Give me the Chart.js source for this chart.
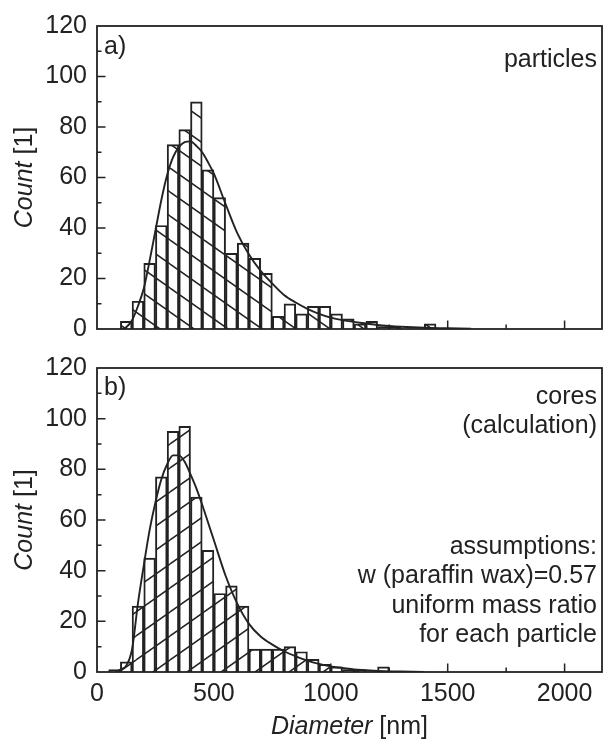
<!DOCTYPE html>
<html>
<head>
<meta charset="utf-8">
<script src="https://cdn.jsdelivr.net/npm/chart.js@4.4.1/dist/chart.umd.min.js"></script>
<style>
  html, body { margin: 0; padding: 0; background: #fff; }
  #wrap { position: relative; width: 605px; height: 741px; }
  canvas { position: absolute; left: 0; }
  #topChart { top: 0; }
  #bottomChart { top: 348px; }
</style>
</head>
<body>
<div id="wrap">
  <canvas id="topChart" width="605" height="348"></canvas>
  <canvas id="bottomChart" width="605" height="393"></canvas>
</div>
<script>
// histogram classes (50 nm wide), centres in nm
const binCenters = [75, 125, 175, 225, 275, 325, 375, 425, 475, 525, 575, 625, 675, 725,
    775, 825, 875, 925, 975, 1025, 1075, 1125, 1175, 1225, 1275, 1325, 1375, 1425];
const particleCounts = [0, 3, 11, 26, 41, 73, 79, 90, 63, 52, 30, 34, 28, 22,
    5, 10, 6, 9, 9, 6, 4, 2, 3, 1, 1, 0, 0, 2];
const coreCounts = [1, 4, 26, 45, 77, 95, 97, 69, 48, 31, 34, 26, 9, 9,
    9, 10, 8, 5, 3, 2, 1, 1, 0, 2, 0, 0, 0, 0];

// fitted distributions
const particleFitX = [110, 125, 150, 175, 200, 225, 250, 275, 300, 325, 350, 375, 400, 425, 450, 475, 500,
    550, 600, 650, 700, 750, 800, 850, 900, 950, 1000, 1050, 1100, 1150, 1200, 1250, 1300, 1400, 1500, 1600];
const particleFitY = [0, 0.7, 3.5, 9, 16, 27, 39, 51, 61, 68, 72, 74, 74.3, 72.5, 70, 66, 61.5,
    49.5, 38, 29.5, 23, 18, 13.5, 10.5, 8, 6, 4.5, 3.5, 2.8, 2.2, 1.6, 1.2, 0.9, 0.5, 0.3, 0.1];
const coreFitX = [80, 100, 125, 150, 175, 200, 225, 250, 275, 300, 325, 350, 375, 400, 425, 450, 475, 500,
    550, 600, 650, 700, 750, 800, 850, 900, 950, 1000, 1050, 1100, 1150, 1200, 1300, 1400];
const coreFitY = [0, 1, 2.5, 9, 27, 42, 56, 67, 76, 82, 85.5, 85.5, 83, 78, 72.5, 66, 59, 52,
    38, 27, 19, 14, 10.8, 8.2, 6.2, 4.5, 3.2, 2.2, 1.6, 1, 0.7, 0.4, 0.2, 0];

// axis ticks
const xTickValues = [0, 500, 1000, 1500, 2000];
const xMinorTicks = [250, 500, 750, 1000, 1250, 1500, 1750, 2000];
const yMinorTicks = [10, 20, 30, 40, 50, 60, 70, 80, 90, 100, 110];

const ink = '#222';
const fontFamily = '"Liberation Sans", Arial, sans-serif';

function hatch(rising) {
    const w = 34, h = 24;
    const c = document.createElement('canvas');
    c.width = w; c.height = h;
    const g = c.getContext('2d');
    g.strokeStyle = ink;
    g.lineWidth = 1.5;
    const offs = [[0, 0], [w, 0], [-w, 0], [0, h], [0, -h]];
    offs.forEach(([dx, dy]) => {
        g.beginPath();
        if (rising) { g.moveTo(dx, dy + h); g.lineTo(dx + w, dy); }
        else { g.moveTo(dx, dy); g.lineTo(dx + w, dy + h); }
        g.stroke();
    });
    return g.createPattern(c, 'repeat');
}

function italicThenPlain(ctx, italicPart, plainPart, cx, cy) {
    ctx.font = 'italic 25px ' + fontFamily;
    const w1 = ctx.measureText(italicPart).width;
    ctx.font = '25px ' + fontFamily;
    const w2 = ctx.measureText(plainPart).width;
    let x = cx - (w1 + w2) / 2;
    ctx.textAlign = 'left';
    ctx.font = 'italic 25px ' + fontFamily;
    ctx.fillText(italicPart, x, cy);
    ctx.font = '25px ' + fontFamily;
    ctx.fillText(plainPart, x + w1, cy);
}

function makePanel(id, counts, fitX, fitY, rising, isBottom, notes) {
    const decor = {
        id: 'decor' + id,
        afterDraw(chart) {
            const { ctx, chartArea: a, scales } = chart;
            ctx.save();
            ctx.strokeStyle = ink;
            ctx.fillStyle = ink;
            // inward ticks
            ctx.lineWidth = 1.5;
            ctx.beginPath();
            xMinorTicks.forEach(v => {
                const px = scales.x.getPixelForValue(v);
                const len = v % 500 === 0 ? 8.5 : 4.5;
                ctx.moveTo(px, a.bottom);
                ctx.lineTo(px, a.bottom - len);
            });
            yMinorTicks.forEach(v => {
                const py = scales.y.getPixelForValue(v);
                const len = v % 20 === 0 ? 8.5 : 4.5;
                ctx.moveTo(a.left, py);
                ctx.lineTo(a.left + len, py);
            });
            ctx.stroke();
            // frame
            ctx.lineWidth = 1.8;
            ctx.strokeRect(a.left, a.top, a.right - a.left, a.bottom - a.top);
            // notes
            ctx.textBaseline = 'middle';
            ctx.font = '25px ' + fontFamily;
            notes.forEach(n => {
                ctx.textAlign = n.align;
                const x = n.align === 'left' ? a.left + n.dx : a.right - n.dx;
                ctx.fillText(n.text, x, a.top + n.dy);
            });
            // y title
            ctx.save();
            ctx.translate(25, (a.top + a.bottom) / 2);
            ctx.rotate(-Math.PI / 2);
            italicThenPlain(ctx, 'Count', ' [1]', 0, 0);
            ctx.restore();
            if (isBottom) {
                italicThenPlain(ctx, 'Diameter', ' [nm]', (a.left + a.right) / 2, chart.height - 14);
            }
            ctx.restore();
        }
    };

    return new Chart(document.getElementById(id), {
        data: {
            datasets: [{
                type: 'line',
                data: fitX.map((x, i) => ({ x: x, y: fitY[i] })),
                borderColor: ink,
                borderWidth: 1.9,
                pointRadius: 0,
                fill: false,
                cubicInterpolationMode: 'monotone',
                order: 0
            }, {
                type: 'bar',
                data: binCenters.map((x, i) => ({ x: x, y: counts[i] })),
                backgroundColor: hatch(rising),
                borderColor: ink,
                borderWidth: 1.3,
                barPercentage: 1,
                categoryPercentage: 1,
                order: 1
            }]
        },
        options: {
            responsive: false,
            animation: false,
            devicePixelRatio: 1,
            layout: {
                autoPadding: false,
                padding: { top: isBottom ? 20 : 26, right: 3, left: 0, bottom: 0 }
            },
            plugins: { legend: { display: false }, tooltip: { enabled: false } },
            scales: {
                x: {
                    type: 'linear',
                    offset: false,
                    min: 0,
                    max: 2160,
                    grid: { display: false, drawTicks: false, offset: false },
                    border: { display: false },
                    ticks: {
                        display: isBottom,
                        autoSkip: false,
                        maxRotation: 0,
                        padding: 7,
                        color: ink,
                        font: { family: fontFamily, size: 25 },
                        callback: v => String(v)
                    },
                    afterBuildTicks: s => { s.ticks = xTickValues.map(v => ({ value: v })); },
                    afterFit: s => {
                        s.height = isBottom ? 69 : 19;
                        s.paddingLeft = 0; s.paddingRight = 0;
                    }
                },
                y: {
                    min: 0,
                    max: 120,
                    grid: { display: false, drawTicks: false },
                    border: { display: false },
                    ticks: {
                        stepSize: 20,
                        padding: 10,
                        color: ink,
                        font: { family: fontFamily, size: 25 }
                    },
                    afterFit: s => {
                        s.width = 97;
                        s.paddingTop = 0; s.paddingBottom = 0;
                    }
                }
            }
        },
        plugins: [decor]
    });
}

makePanel('topChart', particleCounts, particleFitX, particleFitY, false, false, [
    { text: 'a)', align: 'left', dx: 7, dy: 21 },
    { text: 'particles', align: 'right', dx: 5, dy: 34 }
]);
makePanel('bottomChart', coreCounts, coreFitX, coreFitY, true, true, [
    { text: 'b)', align: 'left', dx: 7, dy: 20 },
    { text: 'cores', align: 'right', dx: 5, dy: 29 },
    { text: '(calculation)', align: 'right', dx: 5, dy: 58 },
    { text: 'assumptions:', align: 'right', dx: 5, dy: 179 },
    { text: 'w (paraffin wax)=0.57', align: 'right', dx: 5, dy: 208.5 },
    { text: 'uniform mass ratio', align: 'right', dx: 5, dy: 238 },
    { text: 'for each particle', align: 'right', dx: 5, dy: 267.5 }
]);
</script>
</body>
</html>
